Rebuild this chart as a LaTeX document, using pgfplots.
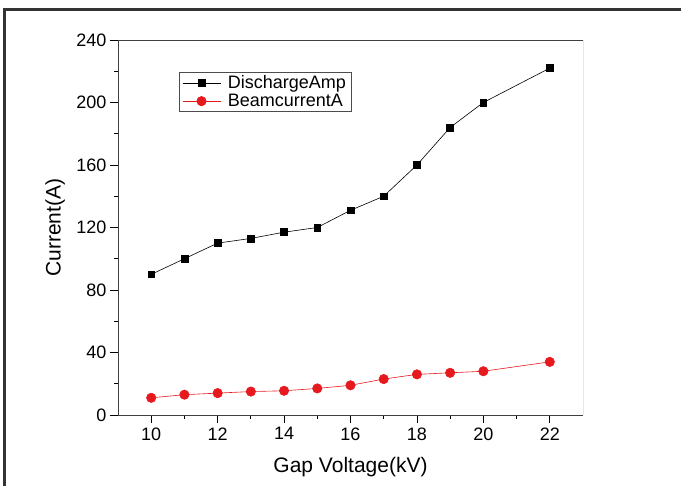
\documentclass[border=0pt]{standalone}
\usepackage{fontspec}
\setmainfont{Liberation Sans}
\usepackage{pgfplots}
\pgfplotsset{compat=1.18}

\definecolor{beamred}{RGB}{230,25,30}
\newcommand{\tlab}[1]{\mbox{\fontsize{18}{19}\selectfont\pgfmathprintnumber[assume math mode=true]{#1}}}

\begin{document}
\begin{tikzpicture}[x=1pt,y=1pt]
\path[use as bounding box] (0,0) rectangle (681,486);
\draw[line width=3pt, black!80] (4,0) -- (4,476) -- (681,476);
\begin{axis}[
  at={(118pt,71pt)}, anchor=south west,
  scale only axis,
  width=465pt, height=375pt,
  xmin=9, xmax=23,
  ymin=0, ymax=240,
  xtick={10,12,...,22},
  ytick={0,40,...,240},
  minor x tick num=1,
  minor y tick num=1,
  axis x line*=bottom,
  axis y line*=left,
  tick align=outside,
  major tick length=8pt,
  minor tick length=4pt,
  tick style={black, line width=0.8pt},
  axis line style={black!75, line width=0.8pt},
  xticklabel={\tlab{\tick}},
  yticklabel={\tlab{\tick}},
  xticklabel style={yshift=-1pt},
  xlabel={Gap Voltage(kV)},
  ylabel={Current(A)},
  label style={font=\fontsize{21}{22}\selectfont},
  xlabel style={at={(axis description cs:0.5,-0.139)}, anchor=center},
  ylabel style={at={(axis description cs:-0.135,0.5)}, anchor=center},
  legend style={at={(0.131,0.915)}, anchor=north west,
    font=\fontsize{18}{20}\selectfont, draw=black!70, line width=0.6pt,
    inner xsep=3pt, inner ysep=1.5pt, row sep=0pt},
  legend cell align=left,
  legend image code/.code={
    \draw[mark repeat=2,mark phase=2] plot coordinates {(0pt,0pt)(19pt,0pt)(38pt,0pt)};
  },
]
% frame lines at top and right (no ticks)
\draw[black!75, line width=0.8pt] (rel axis cs:0,1) -- (rel axis cs:1,1) -- (rel axis cs:1,0);

\addplot[black, line width=0.6pt, mark=square*, mark size=3.4pt, mark options={solid}]
  coordinates {
    (10,90) (11,100) (12,110) (13,113) (14,117) (15,120)
    (16,131) (17,140) (18,160) (19,184) (20,200) (22,222)
  };
\addlegendentry{\hspace{5pt}DischargeAmp}
\addplot[beamred, line width=0.6pt, mark=*, mark size=4.7pt, mark options={solid}]
  coordinates {
    (10,11) (11,13) (12,14) (13,15) (14,15.5) (15,17)
    (16,19) (17,23) (18,26) (19,27) (20,28) (22,34)
  };
\addlegendentry{\hspace{5pt}BeamcurrentA}
\end{axis}
\end{tikzpicture}
\end{document}
